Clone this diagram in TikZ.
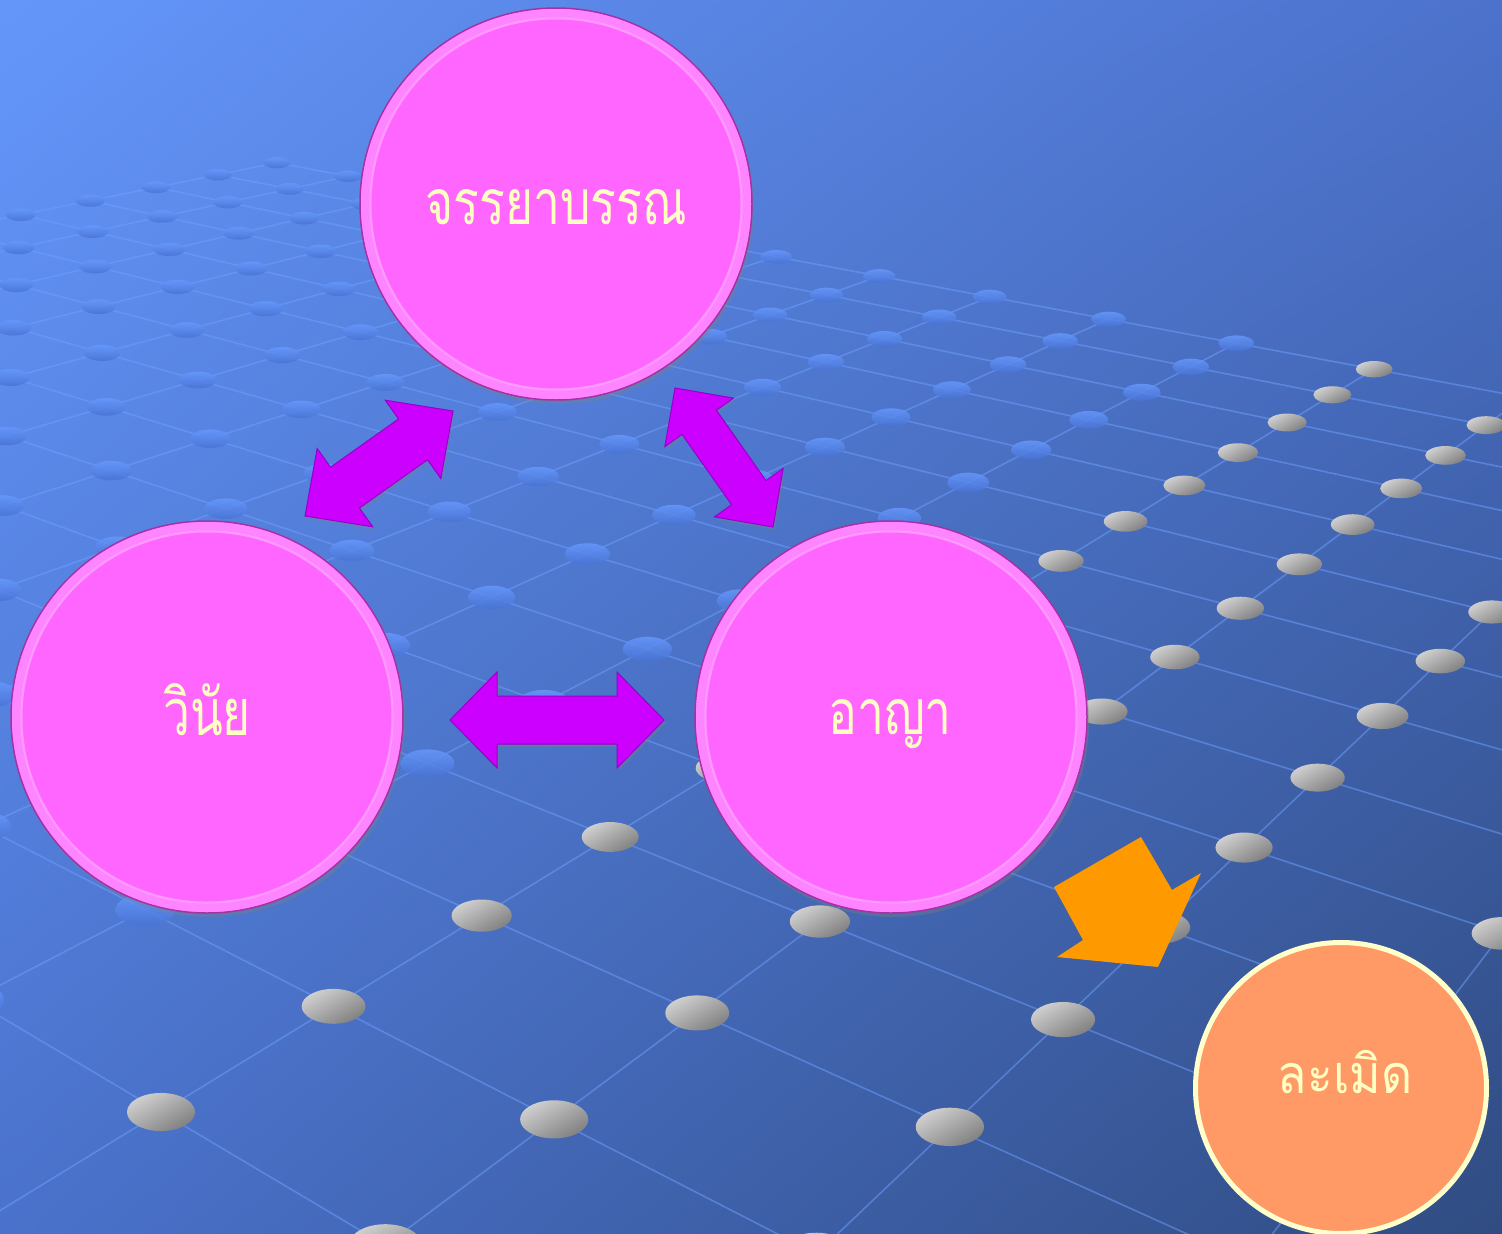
\documentclass[tikz,border=0pt]{standalone}
\usepackage{fontspec}
\newfontfamily\thai[Script=Thai]{Loma}
\usetikzlibrary{calc,shadows,shadings}
\definecolor{bgUL}{RGB}{100,150,250}
\definecolor{bgUR}{RGB}{76,114,204}
\definecolor{bgLL}{RGB}{74,114,204}
\definecolor{bgLR}{RGB}{48,76,130}
\definecolor{gridcol}{RGB}{110,160,255}
\definecolor{bdotA}{RGB}{102,152,252}
\definecolor{bdotB}{RGB}{72,115,212}
\definecolor{gdotA}{RGB}{208,208,208}
\definecolor{gdotB}{RGB}{128,128,128}
\definecolor{pinkfill}{RGB}{255,102,255}
\definecolor{pinkedge}{RGB}{165,50,165}
\definecolor{pinkband}{RGB}{255,132,255}
\definecolor{txtcol}{RGB}{255,255,195}
\definecolor{purp}{RGB}{204,0,255}
\definecolor{purpedge}{RGB}{150,0,200}
\definecolor{orng}{RGB}{255,153,0}
\definecolor{salmon}{RGB}{255,153,102}
\definecolor{cream}{RGB}{255,255,204}
\tikzset{
  gridline/.style={draw=gridcol, opacity=0.5, line width=1.6pt},
  bluedot/.style={top color=bdotA, bottom color=bdotB, opacity=0.85},
  graydot/.style={top color=gdotA, bottom color=gdotB, shading angle=30},
  pinkcirc/.style={circle, fill=pinkfill, draw=pinkedge, line width=1.5pt,
    minimum size=392pt, inner sep=0pt,
    drop shadow={shadow xshift=2pt, shadow yshift=-4pt, opacity=0.35}},
  orangecirc/.style={circle, fill=salmon, draw=cream, line width=5pt,
    minimum size=291pt, inner sep=0pt},
  lbl/.style={text=txtcol, inner sep=0pt, font=\thai\fontsize{48}{56}\selectfont},
  purplearrow/.style={fill=purp, draw=purpedge, line width=1pt,
    drop shadow={shadow xshift=2pt, shadow yshift=-3pt, opacity=0.3}},
  orangearrow/.style={fill=orng, draw=none}
}
\newcommand\dblarr[6]{%
  \coordinate (#1-ha) at ($(#2)!#4!(#3)$);
  \coordinate (#1-hb) at ($(#3)!#4!(#2)$);
  \path[purplearrow] (#2) -- ($(#1-ha)!#5!90:(#3)$) -- ($(#1-ha)!#6!90:(#3)$)
    -- ($(#1-hb)!#6!-90:(#2)$) -- ($(#1-hb)!#5!-90:(#2)$) -- (#3)
    -- ($(#1-hb)!#5!90:(#2)$) -- ($(#1-hb)!#6!90:(#2)$)
    -- ($(#1-ha)!#6!-90:(#3)$) -- ($(#1-ha)!#5!-90:(#3)$) -- cycle;
}
\begin{document}
\begin{tikzpicture}[x=1pt,y=-1pt]
\useasboundingbox (0,0) rectangle (1502,1234);
\begin{scope}
  \clip (0,0) rectangle (1502,1234);
  \shade[upper left=bgUL, upper right=bgUR, lower left=bgLL, lower right=bgLR]
    (0,0) rectangle (1502,1234);
  % perspective grid coordinates
  \foreach \u in {-11,...,3}{
    \foreach \v in {-2,...,14}{
      \pgfmathsetmacro\w{1-0.085742*(\u)+0.08256*(\v)}
      \pgfmathsetmacro\X{(191.36*(\u)+200.116*(\v)+161)/\w}
      \pgfmathsetmacro\Y{(26.49*(\u)-22.577*(\v)+1112)/\w}
      \coordinate (g\u v\v) at (\X,\Y);
    }
  }
  \foreach \u in {-11,...,3} \draw[gridline] (g\u v-2) -- (g\u v14);
  \foreach \v in {-2,...,14} \draw[gridline] (g-11v\v) -- (g3v\v);
  \foreach \u in {-11,...,3}{
    \foreach \v in {-2,...,14}{
      \pgfmathsetmacro\w{1-0.085742*(\u)+0.08256*(\v)}
      \pgfmathsetmacro\X{(191.36*(\u)+200.116*(\v)+161)/\w}
      \pgfmathsetmacro\Y{(26.49*(\u)-22.577*(\v)+1112)/\w}
      \pgfmathsetmacro\rx{34/(\w^0.8)}
      \pgfmathsetmacro\ry{\rx*0.56/(\w^0.3)}
      \pgfmathtruncatemacro\inside{((\X>-60)&&(\X<1560)&&(\Y>-60)&&(\Y<1300))?1:0}
      \ifnum\inside=1
        \ifnum\u<0
          \shade[bluedot] (\X,\Y) ellipse [x radius=\rx pt, y radius=\ry pt];
        \else
          \shade[graydot] (\X,\Y) ellipse [x radius=\rx pt, y radius=\ry pt];
        \fi
      \fi
    }
  }
\end{scope}
% block arrows
\coordinate (hA) at (450,720);
\coordinate (hB) at (664,720);
\coordinate (lA) at (305,516);
\coordinate (lB) at (453,411);
\coordinate (rA) at (675,388);
\coordinate (rB) at (773,527);
\dblarr{harr}{hA}{hB}{47pt}{48pt}{24pt}
\dblarr{larr}{lA}{lB}{49pt}{48pt}{25pt}
\dblarr{rarr}{rA}{rB}{42pt}{42pt}{21pt}
\path[orangearrow] (1054,887) coordinate (o1) -- (1141,837) coordinate (o2)
  -- (1172,890) coordinate (o3) -- (1201,873) coordinate (o4)
  -- (1158,967) coordinate (o5) -- (1057,957) coordinate (o6)
  -- (1083,940) coordinate (o7) -- cycle;
% circles
\node[pinkcirc] (jr) at (556,204) {};
\node[pinkcirc] (vn) at (207,717) {};
\node[pinkcirc] (ay) at (891,717) {};
\foreach \n in {jr,vn,ay}{
  \draw[pinkband, line width=9pt] (\n.center) circle (190.5);
  \draw[white, opacity=0.3, line width=2pt] (\n.center) circle (185.5);
}
\node[orangecirc] (lm) at (1341,1088) {};
% labels
\node[lbl, anchor=base] (t1) at (556,224) {\scalebox{1}[1.3]{จรรยาบรรณ}};
\node[lbl, anchor=base] (t2) at (207,735) {\scalebox{1}[1.35]{วินัย}};
\node[lbl, anchor=base] (t3) at (890,734) {\scalebox{1}[1.3]{อาญา}};
\node[lbl, anchor=base] (t4) at (1345,1093) {\scalebox{1}[1.12]{ละเมิด}};
\end{tikzpicture}
\end{document}
